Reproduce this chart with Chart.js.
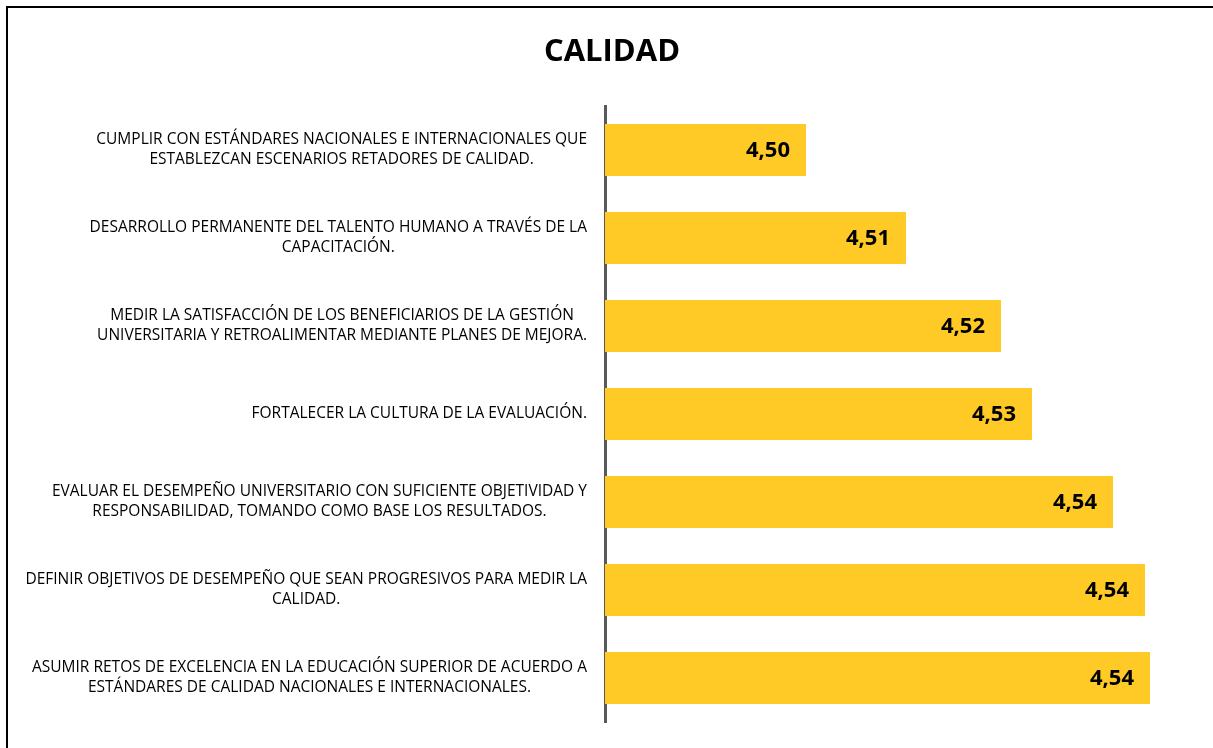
<!DOCTYPE html>
<html>
<head>
<meta charset="utf-8">
<script src="https://cdn.jsdelivr.net/npm/chart.js@4/dist/chart.umd.min.js"></script>
<style>
    html, body { margin: 0; padding: 0; background: #fff; overflow: hidden; }
    #wrap { position: relative; width: 1213px; height: 748px; }
    #frame { position: absolute; left: 6px; top: 6px; width: 1220px; height: 760px; border: 2px solid #000; box-sizing: border-box; }
    #chart-box { position: absolute; left: 0; top: 0; width: 1213px; height: 748px; }
</style>
</head>
<body>
<div id="wrap">
    <div id="frame"></div>
    <div id="chart-box"><canvas id="calidad-chart"></canvas></div>
</div>
<script>
// Datos del gráfico
const titulo = 'CALIDAD';
const categorias = [
    ['CUMPLIR CON ESTÁNDARES NACIONALES E INTERNACIONALES QUE', 'ESTABLEZCAN ESCENARIOS RETADORES DE CALIDAD.'],
    ['DESARROLLO PERMANENTE DEL TALENTO HUMANO A TRAVÉS DE LA', 'CAPACITACIÓN.'],
    ['MEDIR LA SATISFACCIÓN DE LOS BENEFICIARIOS DE LA GESTIÓN', 'UNIVERSITARIA Y RETROALIMENTAR MEDIANTE PLANES DE MEJORA.'],
    ['FORTALECER LA CULTURA DE LA EVALUACIÓN.'],
    ['EVALUAR EL DESEMPEÑO UNIVERSITARIO CON SUFICIENTE OBJETIVIDAD Y', 'RESPONSABILIDAD, TOMANDO COMO BASE LOS RESULTADOS.'],
    ['DEFINIR OBJETIVOS DE DESEMPEÑO QUE SEAN PROGRESIVOS PARA MEDIR LA', 'CALIDAD.'],
    ['ASUMIR RETOS DE EXCELENCIA EN LA EDUCACIÓN SUPERIOR DE ACUERDO A', 'ESTÁNDARES DE CALIDAD NACIONALES E INTERNACIONALES.']
];
const promedios = [4.5045, 4.5145, 4.5240, 4.5271, 4.5352, 4.5384, 4.5389];
const ejeMin = 4.4844;
const ejeMax = 4.5424;

const AMARILLO = '#FFC926';
const FUENTE = "'Open Sans', 'Liberation Sans', sans-serif";

const fmt = (v) => v.toFixed(2).replace('.', ',');

// Título centrado un poco a la derecha, como en el original
const tituloPlugin = {
    id: 'tituloPlugin',
    afterDraw(chart) {
        const { ctx } = chart;
        ctx.save();
        ctx.font = `bold 31px ${FUENTE}`;
        ctx.fillStyle = '#000';
        ctx.textAlign = 'center';
        ctx.textBaseline = 'middle';
        ctx.fillText(titulo, 612, 52);
        ctx.restore();
    }
};

// Etiquetas del eje Y: bloque alineado a la derecha, líneas centradas entre sí
const etiquetasY = {
    id: 'etiquetasY',
    afterDraw(chart) {
        const { ctx } = chart;
        const scale = chart.scales.y;
        const bordeDerecho = 587;
        const alto = 20;
        ctx.save();
        ctx.font = `15.5px ${FUENTE}`;
        ctx.fillStyle = '#000';
        ctx.textAlign = 'center';
        ctx.textBaseline = 'middle';
        categorias.forEach((lineas, i) => {
            const yc = scale.getPixelForTick(i);
            const maxW = Math.max(...lineas.map(l => ctx.measureText(l).width));
            const xc = bordeDerecho - maxW / 2;
            const y0 = yc - (lineas.length - 1) * alto / 2;
            lineas.forEach((l, j) => ctx.fillText(l, xc, y0 + j * alto));
        });
        ctx.restore();
    }
};

// Valores dentro de la barra, cerca del extremo
const valoresBarra = {
    id: 'valoresBarra',
    afterDatasetsDraw(chart) {
        const { ctx } = chart;
        const meta = chart.getDatasetMeta(0);
        ctx.save();
        ctx.font = `bold 22px ${FUENTE}`;
        ctx.fillStyle = '#000';
        ctx.textAlign = 'right';
        ctx.textBaseline = 'middle';
        meta.data.forEach((bar, i) => {
            ctx.fillText(fmt(promedios[i]), bar.x - 16, bar.y + 1);
        });
        ctx.restore();
    }
};

const ctx = document.getElementById('calidad-chart').getContext('2d');
new Chart(ctx, {
    type: 'bar',
    data: {
        labels: categorias.map(l => l.join(' ')),
        datasets: [{
            data: promedios,
            backgroundColor: AMARILLO,
            borderWidth: 0,
            categoryPercentage: 1,
            barPercentage: 0.59
        }]
    },
    options: {
        indexAxis: 'y',
        responsive: true,
        maintainAspectRatio: false,
        animation: false,
        layout: { padding: { top: 106, left: 8, right: 28, bottom: 26 } },
        plugins: {
            legend: { display: false },
            tooltip: { enabled: false },
            title: { display: false }
        },
        scales: {
            x: {
                display: false,
                min: ejeMin,
                max: ejeMax
            },
            y: {
                display: true,
                grid: { display: false },
                ticks: { display: false },
                border: { display: true, color: '#595959', width: 3 },
                afterFit: (scale) => { scale.width = 597; }
            }
        }
    },
    plugins: [tituloPlugin, etiquetasY, valoresBarra]
});
</script>
</body>
</html>
